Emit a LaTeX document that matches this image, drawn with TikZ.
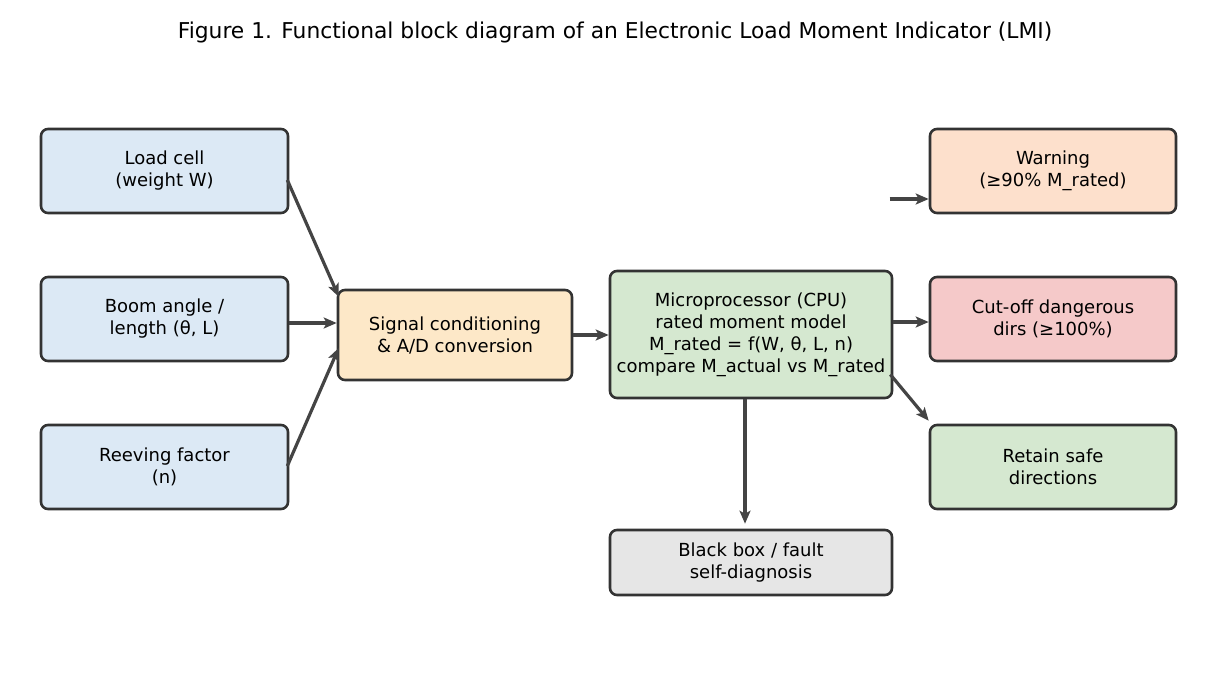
\documentclass[tikz,border=0pt]{standalone}
\usepackage{fontspec}
\setmainfont{DejaVu Sans}
\usetikzlibrary{positioning, arrows.meta}

\definecolor{inblue}{HTML}{DCE9F5}
\definecolor{sigorange}{HTML}{FDE8C8}
\definecolor{cpugreen}{HTML}{D5E8D0}
\definecolor{warnpeach}{HTML}{FDE0CC}
\definecolor{cutred}{HTML}{F5C9C9}
\definecolor{boxgrey}{HTML}{E6E6E6}
\definecolor{edgegrey}{HTML}{333333}
\definecolor{arrowgrey}{HTML}{444444}

\begin{document}
\begin{tikzpicture}[
  x=1pt, y=-1pt,
  font=\fontsize{18}{22}\selectfont,
  block/.style={
    draw=edgegrey, line width=2.6pt, rounded corners=7pt,
    align=center, inner sep=2pt
  },
  inbox/.style={block, fill=inblue, minimum width=247pt, minimum height=84pt},
  outbox/.style={block, minimum width=246pt, minimum height=84pt},
  flow/.style={-{Stealth[length=13pt, width=11pt, inset=3pt]}, line width=3.2pt, draw=arrowgrey},
]
\useasboundingbox (0,0) rectangle (1230,690);

% Title
\node (title) at (615,32) {\fontsize{21.8}{26}\selectfont Figure 1. Functional block diagram of an Electronic Load Moment Indicator (LMI)};

% Sensor inputs
\node[inbox] at (164.5,171) (load) {Load cell\\(weight W)};
\node[inbox] at (164.5,319) (boom) {Boom angle /\\length (θ, L)};
\node[inbox] at (164.5,467) (reev) {Reeving factor\\(n)};

% Processing chain
\node[block, fill=sigorange, minimum width=234pt, minimum height=90pt] at (455,335) (sig) {Signal conditioning\\\& A/D conversion};
\node[block, fill=cpugreen, minimum width=282pt, minimum height=127pt] at (751,334.5) (cpu)
  {Microprocessor (CPU)\\rated moment model\\M\_rated = f(W, θ, L, n)\\compare M\_actual vs M\_rated};
\node[block, fill=boxgrey, minimum width=282pt, minimum height=65pt] at (751,562.5) (bbox) {Black box / fault\\self-diagnosis};

% Outputs
\node[outbox, fill=warnpeach] at (1053,171) (warn) {Warning\\(≥90\% M\_rated)};
\node[outbox, fill=cutred] at (1053,319) (cut) {Cut-off dangerous\\dirs (≥100\%)};
\node[outbox, fill=cpugreen] at (1053,467) (retain) {Retain safe\\directions};

% Connectors
\draw[flow] ([shift={(-2,9)}]load.east) -- ([shift={(2,8)}]sig.north west);
\draw[flow] ([shift={(0,4)}]boom.east) -- ([shift={(0,4)}]boom.east -| sig.west);
\draw[flow] ([shift={(-2,-1)}]reev.east) -- ([shift={(2,13)}]sig.west);
\draw[flow] (sig.east) -- (sig.east -| cpu.west);
\draw[flow] ([shift={(0,3)}]cut.west -| cpu.east) -- ([shift={(0,3)}]cut.west);
\draw[flow] ([shift={(-3,40)}]cpu.east) -- ([shift={(0,-3)}]retain.north west);
\draw[flow] ([shift={(-6,0)}]cpu.south) -- ([shift={(-6,-5)}]bbox.north);
\coordinate (warnin) at ([shift={(-39,28)}]warn.west);
\draw[flow] (warnin) -- (warnin -| warn.west);

\end{tikzpicture}
\end{document}
